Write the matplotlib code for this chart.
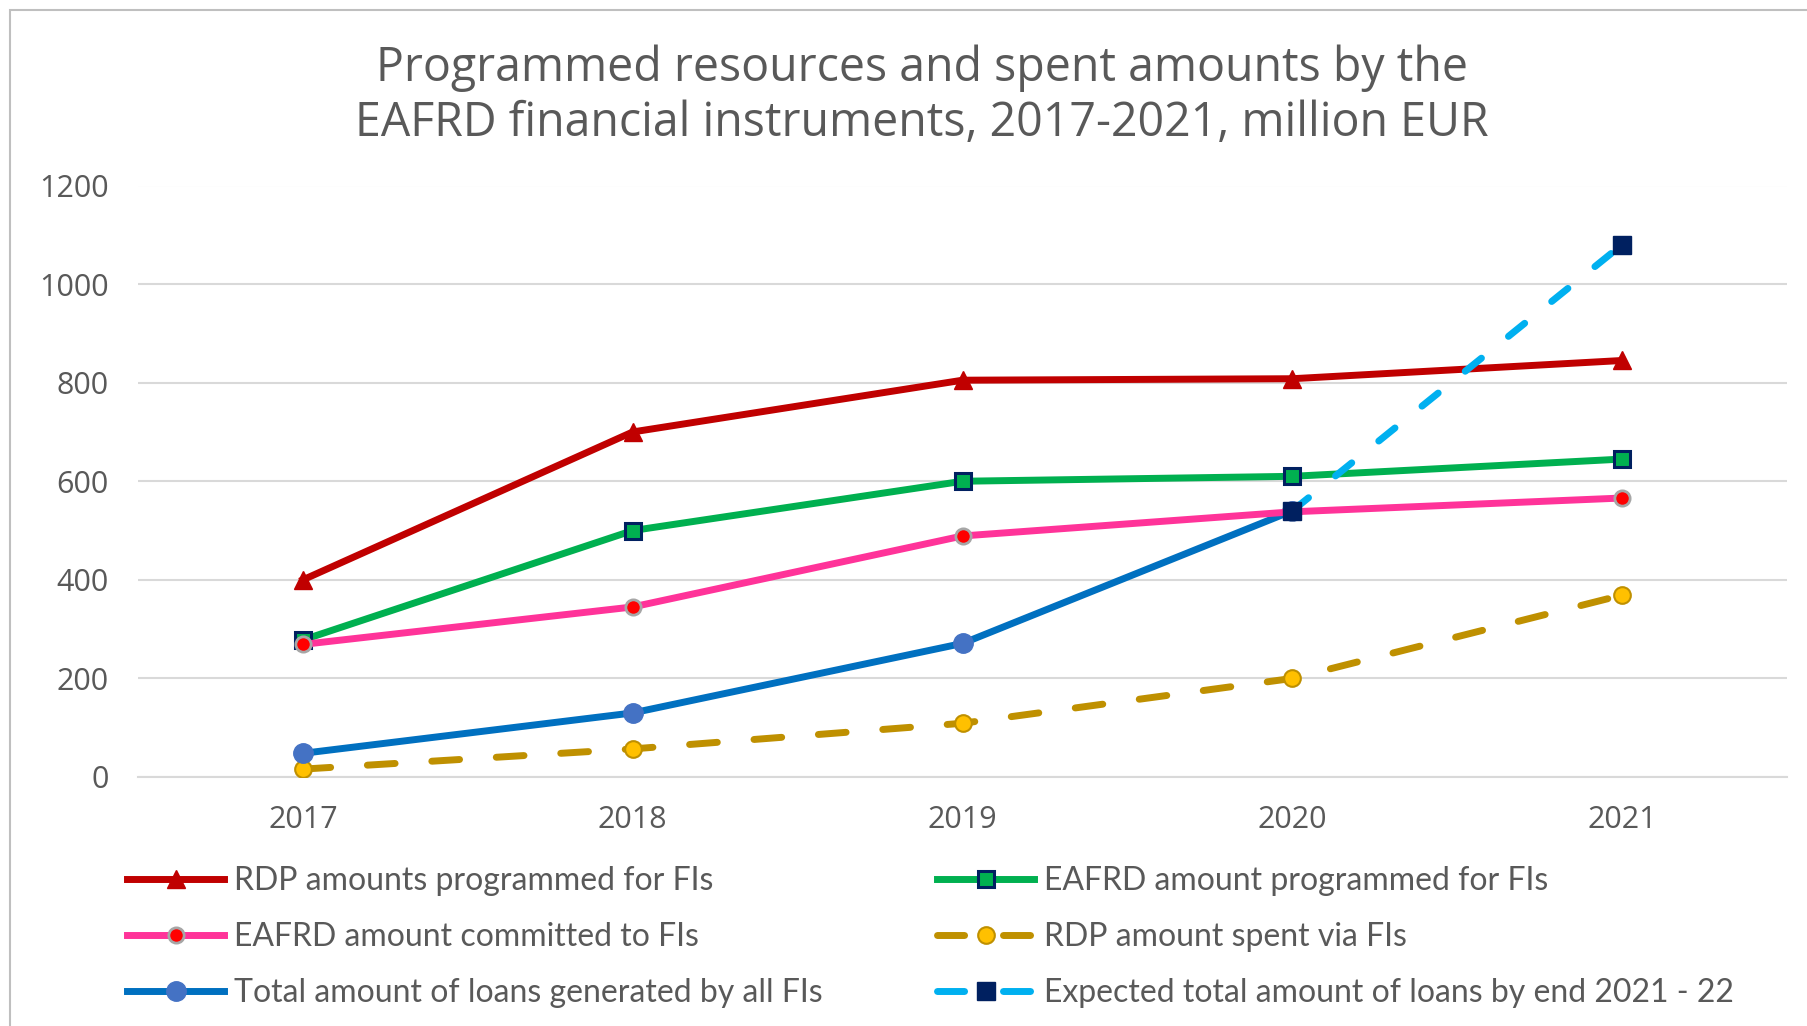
import numpy as np
import matplotlib
matplotlib.use('Agg')
import matplotlib.pyplot as plt
from matplotlib.patches import Rectangle
from matplotlib.lines import Line2D

# ===== 数据 =====
years = ['2017', '2018', '2019', '2020', '2021']
rdp_programmed = [400, 700, 805, 808, 845]
eafrd_programmed = [278, 500, 600, 610, 645]
eafrd_committed = [269, 345, 489, 538, 566]
rdp_spent = [16, 57, 109, 200, 369]
loans_total = [48, 130, 271, 540, np.nan]
loans_expected = [np.nan, np.nan, np.nan, 540, 1080]

labels_left = ['RDP amounts programmed for FIs',
               'EAFRD amount committed to FIs',
               'Total amount of loans generated by all FIs']
labels_right = ['EAFRD amount programmed for FIs',
                'RDP amount spent via FIs',
                'Expected total amount of loans by end 2021 - 22']

# ===== 样式 =====
GRAY_TXT = '#595959'
plt.rcParams['font.family'] = ['Open Sans', 'DejaVu Sans']

fig = plt.figure(figsize=(18.07, 10.26), dpi=100)
ax = fig.add_axes([138 / 1807, 1 - 777 / 1026, (1787 - 138) / 1807, (777 - 185.5) / 1026])

x = np.arange(len(years))
LW = 5

spent_style = dict(color='#BF9000', lw=LW, marker='o', ms=12, mfc='#FFC000',
                   mec='#BF9000', mew=1.5, dash_capstyle='round')
exp_style = dict(color='#00B0F0', lw=LW, marker='s', ms=13, mfc='#002060',
                 mec='#002060', dash_capstyle='round')

l_rdp, = ax.plot(x, rdp_programmed, color='#C00000', lw=LW, marker='^', ms=13,
                 mfc='#C00000', mec='#C00000', zorder=3)
l_eprog, = ax.plot(x, eafrd_programmed, color='#00B050', lw=LW, marker='s', ms=12,
                   mfc='#00B050', mec='#002060', mew=2.2, zorder=3)
l_comm, = ax.plot(x, eafrd_committed, color='#FF3399', lw=LW, marker='o', ms=11,
                  mfc='#FF0000', mec='#A6A6A6', mew=2, zorder=4)
ax.plot(x, rdp_spent, dashes=(4.0, 5.3), zorder=3, **spent_style)
l_loans, = ax.plot(x, loans_total, color='#0070C0', lw=LW, marker='o', ms=14,
                   mfc='#4472C4', mec='#4472C4', zorder=3)
ax.plot(x, loans_expected, dashes=(3.0, 5.0), zorder=5, **exp_style)

# 图例用的虚线句柄: 虚线-标记-虚线
h_spent = Line2D([], [], dashes=(3.9, 5.6), **spent_style)
h_exp = Line2D([], [], dashes=(3.9, 5.6), **exp_style)

ax.set_xlim(-0.5, len(years) - 0.5)
ax.set_ylim(0, 1200)
ax.set_yticks(range(0, 1201, 200))
ax.set_xticks(x)
ax.set_xticklabels(years)
ax.grid(axis='y', color='#D9D9D9', lw=1.5, zorder=0)
ax.set_axisbelow(True)
for s in ['top', 'right', 'left']:
    ax.spines[s].set_visible(False)
ax.spines['bottom'].set_color('#D9D9D9')
ax.spines['bottom'].set_linewidth(1.5)
ax.tick_params(length=0, labelsize=22, labelcolor=GRAY_TXT)
ax.tick_params(axis='y', pad=21)
ax.tick_params(axis='x', pad=20)

# 标题
fig.text(0.510, 1 - 96 / 1026,
         'Programmed resources and spent amounts by the\nEAFRD financial instruments, 2017-2021, million EUR',
         ha='center', va='center', fontsize=33.5, color=GRAY_TXT, linespacing=1.2)

# 图例 (左右两列分别放置)
leg_kw = dict(loc='upper left', frameon=False, borderpad=0, borderaxespad=0,
              handlelength=3.05, handletextpad=0.3, labelspacing=0.82,
              prop={'family': ['Lato', 'DejaVu Sans'], 'size': 23})
leg1 = fig.legend([l_rdp, l_comm, l_loans], labels_left,
                  bbox_to_anchor=(127 / 1807, 1 - 866 / 1026), **leg_kw)
leg2 = fig.legend([l_eprog, h_spent, h_exp], labels_right,
                  bbox_to_anchor=(937 / 1807, 1 - 866 / 1026), **leg_kw)
for leg in (leg1, leg2):
    for t in leg.get_texts():
        t.set_color(GRAY_TXT)

# 外框
fig.patches.append(Rectangle((9.5 / 1807, -0.1), 1.2, 1.1 - 10 / 1026,
                             transform=fig.transFigure, fill=False,
                             edgecolor='#BFBFBF', lw=1.5))

fig.savefig('out.png', dpi=100)
